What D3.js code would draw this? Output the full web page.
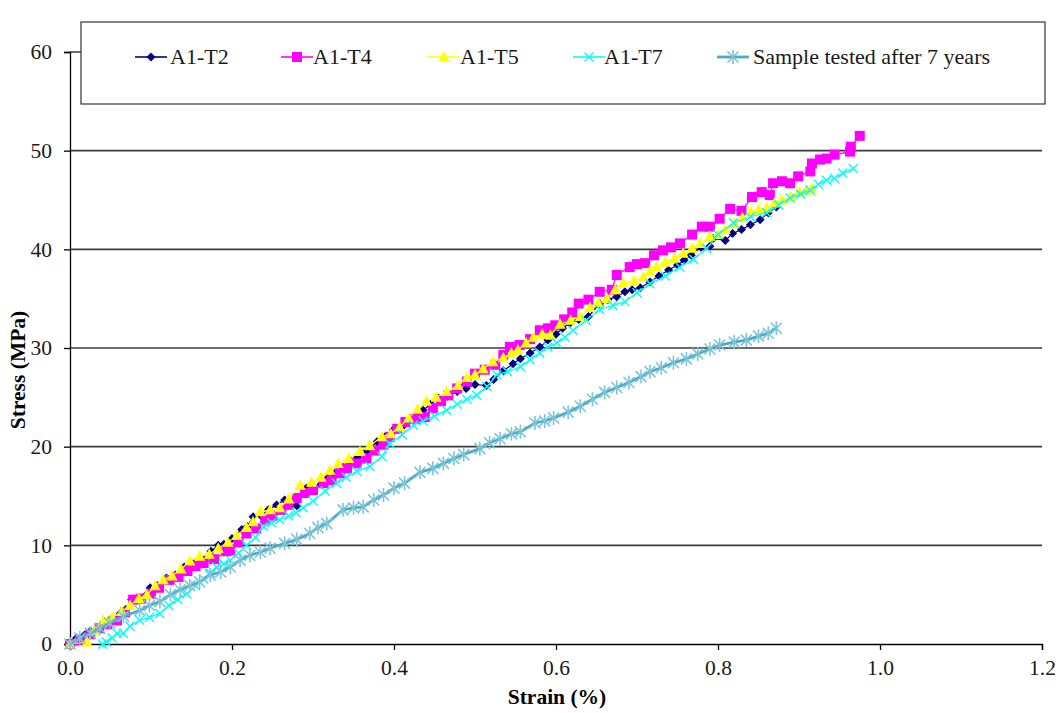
<!DOCTYPE html>
<html><head><meta charset="utf-8">
<script src="https://cdn.jsdelivr.net/npm/d3@7"></script>
<style>body{margin:0;background:#fff}svg{display:block}text{font-family:"Liberation Serif","Times New Roman",serif}</style>
</head><body><svg id="c" width="1060" height="713"></svg>
<script>
const seriesNames = ["A1-T2","A1-T4","A1-T5","A1-T7","Sample tested after 7 years"];
const xTicks = [0,0.2,0.4,0.6,0.8,1.0,1.2];
const yTicks = [0,10,20,30,40,50,60];

const t2 = [[0,0],[0.008,0.6],[0.018,0.9],[0.025,1.3],[0.034,1.6],[0.041,2.1],[0.05,2.5],[0.062,3.1],[0.069,3.5],[0.076,4.5],[0.086,4.7],[0.099,5.7],[0.108,5.9],[0.119,6.7],[0.13,7.0],[0.141,7.8],[0.152,8.2],[0.163,8.6],[0.174,9.4],[0.183,10.0],[0.19,10.1],[0.2,10.7],[0.212,11.6],[0.219,11.9],[0.226,12.9],[0.236,13.0],[0.245,13.6],[0.255,14.1],[0.265,14.6],[0.272,14.4],[0.28,14.0],[0.292,15.8],[0.3,15.9],[0.31,16.2],[0.318,16.8],[0.327,17.3],[0.337,17.9],[0.346,18.6],[0.355,18.9],[0.367,19.6],[0.379,20.5],[0.389,21.0],[0.399,21.7],[0.41,22.0],[0.42,22.8],[0.428,23.3],[0.436,23.7],[0.445,24.3],[0.455,24.9],[0.466,25.1],[0.478,25.6],[0.489,25.9],[0.5,26.3],[0.514,26.2],[0.523,26.8],[0.535,27.7],[0.547,28.4],[0.556,28.9],[0.568,29.5],[0.58,30.1],[0.59,30.8],[0.6,31.4],[0.608,32.0],[0.617,32.5],[0.628,32.9],[0.64,33.2],[0.654,34.5],[0.664,34.9],[0.675,35.2],[0.685,35.7],[0.694,35.9],[0.704,36.1],[0.716,36.7],[0.727,37.3],[0.739,37.9],[0.75,38.4],[0.758,38.9],[0.767,39.4],[0.779,40.2],[0.79,40.3],[0.794,41.1],[0.809,40.9],[0.818,41.6],[0.829,42.0],[0.84,42.5],[0.852,43.0],[0.862,43.7],[0.872,44.3]];

const t4 = [[0,0],[0.012,0.4],[0.025,1.0],[0.036,1.6],[0.046,2.0],[0.058,2.4],[0.068,3.2],[0.078,4.5],[0.088,4.6],[0.1,5.1],[0.11,5.7],[0.123,6.5],[0.134,6.8],[0.145,7.4],[0.155,7.9],[0.165,8.2],[0.178,8.6],[0.193,9.4],[0.198,9.5],[0.208,10.3],[0.218,11.2],[0.23,11.7],[0.241,12.6],[0.25,13.0],[0.261,13.6],[0.27,14.1],[0.28,14.8],[0.29,15.3],[0.3,15.6],[0.313,16.3],[0.323,16.6],[0.333,17.3],[0.342,17.8],[0.354,18.3],[0.366,18.8],[0.376,19.6],[0.387,20.2],[0.395,21.0],[0.404,21.8],[0.414,22.5],[0.426,22.8],[0.438,23.0],[0.448,23.9],[0.458,24.6],[0.467,25.2],[0.478,25.9],[0.49,26.6],[0.5,27.4],[0.512,27.8],[0.525,28.3],[0.535,29.3],[0.543,30.1],[0.555,30.3],[0.568,30.9],[0.58,31.8],[0.59,32.0],[0.599,32.3],[0.61,32.9],[0.62,33.6],[0.628,34.5],[0.64,34.9],[0.654,35.7],[0.669,35.9],[0.675,37.4],[0.691,38.2],[0.7,38.5],[0.71,38.6],[0.721,39.4],[0.732,39.9],[0.742,40.2],[0.753,40.6],[0.768,41.5],[0.78,42.3],[0.79,42.3],[0.802,43.1],[0.815,44.1],[0.829,43.9],[0.842,45.3],[0.854,45.8],[0.864,45.5],[0.868,46.7],[0.879,46.9],[0.889,46.7],[0.899,47.4],[0.914,47.9],[0.916,48.7],[0.926,49.1],[0.934,49.2],[0.944,49.6],[0.963,49.9],[0.964,50.4],[0.975,51.5]];

const t5 = [[0,0],[0.021,0.2],[0.03,1.4],[0.041,2.4],[0.052,2.7],[0.064,3.3],[0.074,3.9],[0.085,4.6],[0.095,5.0],[0.105,5.9],[0.115,6.5],[0.126,6.9],[0.137,7.6],[0.148,8.4],[0.16,8.9],[0.172,9.1],[0.183,9.7],[0.195,10.3],[0.206,11.0],[0.218,11.8],[0.226,12.4],[0.235,13.4],[0.247,13.6],[0.259,13.8],[0.27,14.7],[0.284,16.1],[0.298,16.4],[0.31,16.9],[0.321,17.6],[0.331,18.3],[0.344,18.8],[0.358,19.5],[0.37,20.1],[0.385,21.0],[0.396,21.3],[0.407,22.0],[0.418,22.9],[0.429,23.8],[0.44,24.6],[0.452,25.0],[0.465,25.6],[0.479,26.2],[0.49,27.0],[0.5,27.3],[0.51,27.9],[0.522,28.6],[0.535,29.0],[0.545,29.5],[0.553,29.8],[0.563,30.5],[0.572,31.1],[0.583,31.4],[0.593,31.3],[0.605,32.4],[0.618,32.8],[0.63,33.2],[0.642,34.1],[0.652,34.6],[0.663,35.0],[0.673,35.9],[0.683,36.6],[0.696,36.8],[0.708,37.2],[0.716,37.8],[0.724,38.2],[0.735,38.7],[0.746,39.1],[0.757,39.6],[0.768,40.1],[0.778,40.6],[0.79,41.3],[0.8,41.5],[0.809,42.0],[0.82,42.6],[0.83,43.2],[0.84,43.8],[0.85,44.0],[0.86,44.2],[0.87,44.7],[0.879,45.0],[0.89,45.3],[0.9,45.8],[0.909,46.0],[0.916,46.2]];

const t7 = [[0.04,0],[0.045,0.2],[0.052,0.6],[0.058,1.1],[0.066,1.1],[0.074,1.8],[0.086,2.4],[0.098,2.7],[0.111,3.1],[0.122,3.9],[0.133,4.5],[0.144,5.1],[0.155,5.9],[0.165,6.6],[0.173,7.2],[0.181,7.8],[0.19,8.1],[0.198,8.5],[0.208,9.2],[0.218,10.0],[0.229,10.8],[0.239,11.9],[0.249,12.3],[0.259,12.6],[0.27,13.0],[0.279,13.3],[0.288,13.8],[0.3,14.5],[0.315,15.5],[0.329,16.3],[0.341,16.9],[0.354,17.5],[0.37,18.0],[0.385,19.0],[0.395,20.3],[0.41,21.2],[0.424,22.2],[0.436,22.6],[0.45,23.1],[0.465,23.7],[0.478,24.3],[0.49,24.8],[0.502,25.2],[0.515,26.1],[0.527,27.3],[0.54,27.6],[0.556,28.1],[0.568,28.8],[0.58,29.5],[0.59,30.1],[0.601,30.5],[0.611,31.1],[0.621,31.8],[0.637,32.8],[0.654,33.9],[0.67,34.3],[0.685,34.7],[0.7,35.6],[0.716,36.5],[0.735,37.3],[0.753,38.2],[0.77,39.0],[0.786,40.1],[0.8,41.5],[0.819,42.7],[0.84,43.3],[0.86,43.7],[0.875,44.5],[0.889,45.2],[0.902,45.6],[0.914,46.0],[0.924,46.6],[0.934,47.0],[0.944,47.2],[0.954,47.7],[0.967,48.2]];

const aged = [[0,0],[0.012,0.6],[0.025,1.1],[0.037,1.6],[0.049,2.1],[0.066,2.8],[0.086,3.4],[0.098,3.9],[0.111,4.3],[0.124,5.0],[0.136,5.5],[0.148,5.9],[0.16,6.3],[0.173,7.0],[0.186,7.3],[0.198,7.8],[0.21,8.5],[0.222,9.0],[0.235,9.3],[0.247,9.7],[0.265,10.2],[0.28,10.6],[0.296,11.2],[0.306,11.8],[0.317,12.2],[0.337,13.6],[0.35,13.8],[0.362,13.9],[0.375,14.6],[0.387,15.1],[0.4,15.8],[0.413,16.3],[0.432,17.4],[0.448,17.8],[0.461,18.3],[0.474,18.8],[0.486,19.2],[0.506,19.8],[0.518,20.4],[0.531,20.8],[0.545,21.3],[0.556,21.5],[0.574,22.4],[0.586,22.6],[0.597,22.9],[0.615,23.5],[0.63,24.1],[0.645,24.8],[0.66,25.5],[0.675,26.0],[0.69,26.5],[0.705,27.1],[0.716,27.6],[0.73,28.0],[0.745,28.5],[0.761,28.9],[0.775,29.4],[0.79,29.9],[0.802,30.3],[0.82,30.6],[0.835,30.8],[0.85,31.2],[0.862,31.5],[0.872,32.0]];

const seriesData = [t2,t4,t5,t7,aged];
const seriesColors = ["#000080","#ff00ff","#ffff00","#00ffff","#4bacc6"];
const seriesMarkers = ["diamond","square","triangle","cross","star"];

const svg = d3.select("#c");
const x = d3.scaleLinear().domain([0,1.2]).range([70,1042]);
const y = d3.scaleLinear().domain([0,60]).range([644,52]);

// gridlines
svg.append("g").selectAll("line").data(yTicks.filter(v=>v>0)).join("line")
  .attr("x1",x(0)).attr("x2",x(1.2)).attr("y1",d=>y(d)).attr("y2",d=>y(d))
  .attr("stroke","#3a3a3a").attr("stroke-width",1.6);

// axes
const xa = svg.append("g").attr("transform",`translate(0,${y(0)})`)
  .call(d3.axisBottom(x).tickValues(xTicks).tickFormat(d3.format(".1f")).tickSize(6).tickPadding(10));
const ya = svg.append("g").attr("transform",`translate(${x(0)},0)`)
  .call(d3.axisLeft(y).tickValues(yTicks).tickSize(6).tickPadding(12));
[xa,ya].forEach(a=>{
  a.select(".domain").attr("stroke","#000").attr("stroke-width",1.3);
  a.selectAll(".tick line").attr("stroke","#000").attr("stroke-width",1.3);
  a.selectAll("text").attr("font-size",21.5).attr("fill","#1a1a1a").attr("font-family","Liberation Serif");
});

svg.append("text").attr("x",557).attr("y",704).attr("text-anchor","middle")
  .attr("font-weight","bold").attr("font-size",21.5).text("Strain (%)");
svg.append("text").attr("transform","translate(25,370) rotate(-90)").attr("text-anchor","middle")
  .attr("font-weight","bold").attr("font-size",21.5).text("Stress (MPa)");

function marker(g, type, color, cx, cy){
  if(type==="diamond"){
    g.append("path").attr("d",`M${cx},${cy-4.5}L${cx+4.5},${cy}L${cx},${cy+4.5}L${cx-4.5},${cy}Z`).attr("fill",color);
  } else if(type==="square"){
    g.append("rect").attr("x",cx-5).attr("y",cy-5).attr("width",10).attr("height",10).attr("fill",color);
  } else if(type==="triangle"){
    g.append("path").attr("d",`M${cx},${cy-6}L${cx+5.5},${cy+4.5}L${cx-5.5},${cy+4.5}Z`).attr("fill",color);
  } else if(type==="cross"){
    g.append("path").attr("d",`M${cx-4.5},${cy-4.5}L${cx+4.5},${cy+4.5}M${cx-4.5},${cy+4.5}L${cx+4.5},${cy-4.5}`)
      .attr("stroke",color).attr("stroke-width",1.4).attr("fill","none");
  } else if(type==="star"){
    g.append("path").attr("d",`M${cx-5.5},${cy-5.5}L${cx+5.5},${cy+5.5}M${cx-5.5},${cy+5.5}L${cx+5.5},${cy-5.5}M${cx},${cy-7}L${cx},${cy+7}`)
      .attr("stroke","#7cc4d8").attr("stroke-width",1.6).attr("fill","none");
  }
}

const line = d3.line().x(d=>x(d[0])).y(d=>y(d[1]));
seriesData.forEach((data,i)=>{
  const g = svg.append("g");
  g.append("path").datum(data).attr("d",line).attr("fill","none")
    .attr("stroke",seriesColors[i]).attr("stroke-width", i===4?2.8:1.2);
  data.forEach(d=>marker(g, seriesMarkers[i], seriesColors[i], x(d[0]), y(d[1])));
});

// legend
const lg = svg.append("g");
lg.append("rect").attr("x",81).attr("y",22).attr("width",964).attr("height",82)
  .attr("fill","#fff").attr("stroke","#333").attr("stroke-width",1.2);
const legLineX = [135,281,428,573,717];
const legTextX = [170,313,460,604,753];
seriesNames.forEach((n,i)=>{
  const lx = legLineX[i], ly = 57;
  lg.append("line").attr("x1",lx).attr("x2",lx+32).attr("y1",ly).attr("y2",ly)
    .attr("stroke",seriesColors[i]).attr("stroke-width",i===4?2.8:1.6);
  marker(lg, seriesMarkers[i], seriesColors[i], lx+16, ly);
  lg.append("text").attr("x",legTextX[i]).attr("y",ly+7).attr("font-size",22).attr("fill","#1a1a1a").text(n);
});
</script></body></html>
